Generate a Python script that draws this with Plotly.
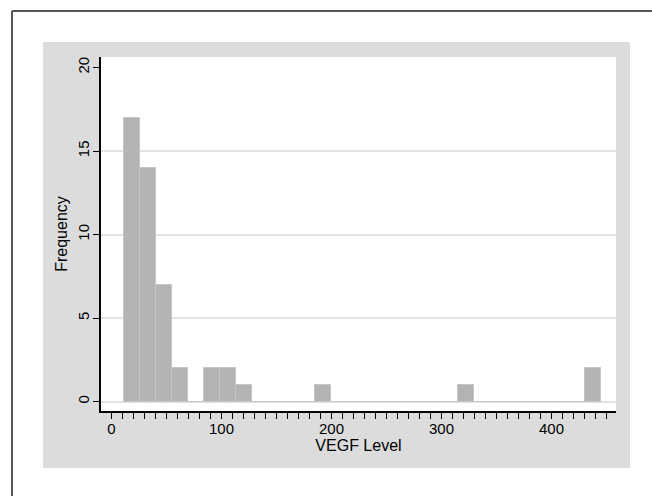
import plotly.graph_objects as go

# ---- data ----
bin_start = 11.8          # left edge of first bin (VEGF level)
bin_width = 14.44         # width of each bin
counts = [17, 14, 7, 2, 0, 2, 2, 1, 0, 0,
          0, 0, 1, 0, 0, 0, 0, 0, 0, 0,
          0, 1, 0, 0, 0, 0, 0, 0, 0, 2]

x_tick_vals = list(range(0, 460, 10))
x_tick_text = [str(v) if v % 100 == 0 else "" for v in x_tick_vals]
y_tick_vals = [0, 5, 10, 15, 20]
y_grid_vals = [0, 5, 10, 15]

x_title = "VEGF Level"
y_title = "Frequency"

# ---- layout geometry (pixels) ----
W, H = 652, 496
L, R, T, B = 101, 616, 57, 411   # plot area edges
pw, ph = R - L, B - T

def px_x(p):
    return (p - L) / pw

def px_y(p):
    return (B - p) / ph

centers = [bin_start + bin_width * (i + 0.5) for i in range(len(counts))]

font_family = "Liberation Sans, Arial, Helvetica, sans-serif"

fig = go.Figure()
fig.add_trace(go.Bar(
    x=centers, y=counts, width=bin_width,
    marker=dict(color="#b3b3b3", line=dict(color="#c6c6c6", width=1)),
    hoverinfo="x+y", showlegend=False,
))
# dummy trace to activate gridline axis
fig.add_trace(go.Scatter(x=[None], y=[None], yaxis="y2", showlegend=False,
                         hoverinfo="skip"))

fig.update_layout(
    width=W, height=H,
    margin=dict(l=L, r=W - R, t=T, b=H - B, pad=0),
    paper_bgcolor="white", plot_bgcolor="white",
    bargap=0,
    font=dict(family=font_family, size=15, color="#000000"),
    xaxis=dict(
        range=[-9.5, 458.6], tickmode="array", tickvals=x_tick_vals,
        ticktext=x_tick_text, ticks="outside", ticklen=6, tickwidth=1.3,
        tickcolor="#000000", showline=True, linecolor="#000000", linewidth=1.5,
        showgrid=False, zeroline=False, ticklabelstandoff=-3,
        title=dict(text=x_title, standoff=1, font=dict(size=16)),
        tickfont=dict(size=15),
    ),
    yaxis=dict(
        range=[-0.56, 20.63], tickmode="array", tickvals=y_tick_vals,
        ticks="outside", ticklen=6, tickwidth=1.3, tickcolor="#000000",
        showline=True, linecolor="#000000", linewidth=1.5,
        showgrid=False, zeroline=False, tickangle=-90, ticklabelstandoff=-2,
        title=dict(text=y_title, standoff=4, font=dict(size=16)),
        tickfont=dict(size=15),
    ),
    yaxis2=dict(
        range=[-0.56, 20.63], overlaying="y", tickmode="array",
        tickvals=y_grid_vals, showticklabels=False, ticks="",
        showgrid=True, gridcolor="#e3e3e3", gridwidth=1.5,
        showline=False, zeroline=False,
    ),
    shapes=[
        # light gray graph region
        dict(type="rect", xref="paper", yref="paper", layer="below",
             x0=px_x(43), x1=px_x(630), y0=px_y(468), y1=px_y(42),
             fillcolor="#dcdcdc", line=dict(width=0)),
        # white plot region
        dict(type="rect", xref="paper", yref="paper", layer="below",
             x0=0, x1=1, y0=0, y1=1,
             fillcolor="white", line=dict(width=0)),
        # outer frame: left edge
        dict(type="line", xref="paper", yref="paper", layer="below",
             x0=px_x(12), x1=px_x(12), y0=px_y(496), y1=px_y(11),
             line=dict(color="#555555", width=2)),
        # outer frame: top edge
        dict(type="line", xref="paper", yref="paper", layer="below",
             x0=px_x(12), x1=px_x(652), y0=px_y(11), y1=px_y(11),
             line=dict(color="#555555", width=2)),
    ],
)

fig.write_html("out.html")
